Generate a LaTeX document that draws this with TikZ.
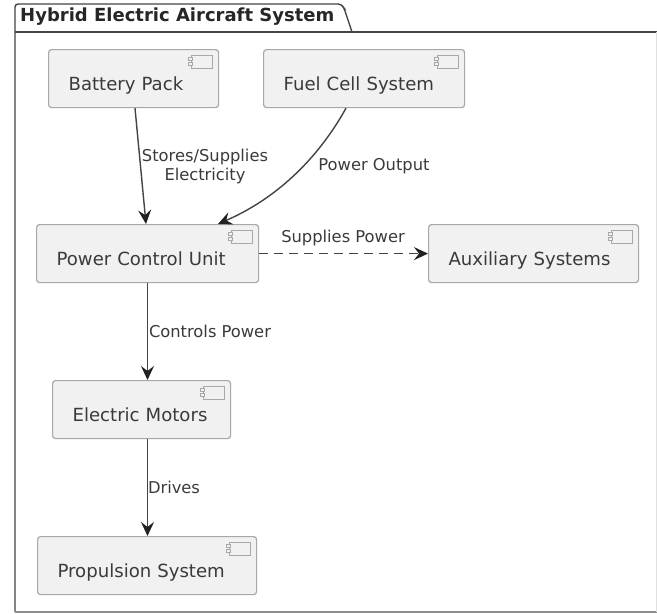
\documentclass[tikz,border=0pt]{standalone}
\usepackage{fontspec}
\setmainfont{DejaVu Sans}
\usetikzlibrary{arrows.meta,calc}
\definecolor{boxfill}{HTML}{F1F1F1}
\definecolor{boxline}{HTML}{A8A8A8}
\definecolor{inkline}{HTML}{444444}
\definecolor{inktip}{HTML}{222222}
\definecolor{inktext}{HTML}{3A3A3A}
\tikzset{
  x=1pt,y=-1pt,
  comp/.style={draw=boxline,fill=boxfill,line width=1.2pt,rounded corners=3pt,anchor=north west,
    inner ysep=0pt,inner xsep=20pt,minimum height=58pt,text width=#1-40pt,align=left,
    font=\fontsize{18.1pt}{20pt}\selectfont,text=inktext,text height=26pt,text depth=2pt},
  flow/.style={draw=inkline,line width=1.4pt,-{Stealth[length=14pt,width=13pt,inset=5pt,color=inktip]}},
  lab/.style={font=\fontsize{16.3pt}{19pt}\selectfont,text=inktext,align=center,inner sep=0pt},
  iconline/.style={draw=boxline,line width=0.9pt,fill=boxfill},
  pkg/.style={draw=inkline,line width=1.4pt},
  icon/.pic={
    \draw[iconline] (-21,0) rectangle (0,13);
    \draw[iconline] (-23.5,2.5) rectangle (-19.5,5.5);
    \draw[iconline] (-23.5,7.5) rectangle (-19.5,10.5);
  }
}
\begin{document}
\begin{tikzpicture}
\useasboundingbox (0,0) rectangle (657,614);
\fill[white] (0,0) rectangle (657,614);
% package
\draw[pkg,rounded corners=3pt] (15,612) -- (15,4) -- (341,4) -- (344,8) -- (352,32);
\draw[pkg] (15,32) -- (657,32);
\draw[draw=black!45,line width=1.2pt] (15,612) -- (657,612);
\draw[draw=black!12,line width=0.8pt] (656,32) -- (656,612);
\node[anchor=west,inner sep=0pt,font=\bfseries\fontsize{18pt}{20pt}\selectfont,text=black!85] (title) at (20,17) {Hybrid Electric Aircraft System};
% components
\node[comp=170pt] (bat) at (48,49) {Battery Pack};
\node[comp=201pt] (fuel) at (263,49) {Fuel Cell System};
\node[comp=222pt] (pcu) at (36,224) {Power Control Unit};
\node[comp=210pt] (aux) at (428,224) {Auxiliary Systems};
\node[comp=178pt] (em) at (52,380) {Electric Motors};
\node[comp=219pt] (prop) at (37,536) {Propulsion System};
% icons
\foreach \n in {bat,fuel,pcu,aux,em,prop}{
  \path ($(\n.north east)+(-7,6)$) pic {icon};
}
% connectors
\coordinate (batOut) at (135,107);
\coordinate (fuelOut) at (346,107);
\draw[flow] (bat.south -| batOut) -- (pcu.north -| 146,0);
\draw[flow] (fuel.south -| fuelOut) .. controls (320,155) and (280,197) .. (pcu.north -| 218,0);
\draw[flow,dash pattern=on 9pt off 6pt] (pcu.east) -- (aux.west);
\draw[flow] (pcu.south -| 147.5,0) -- (em.north -| 147.5,0);
\draw[flow] (em.south -| 147.5,0) -- (prop.north -| 147.5,0);
% labels
\node[lab] (l1) at (205,166) {Stores/Supplies\\Electricity};
\node[lab] (l2) at (374,166) {Power Output};
\node[lab] (l3) at (343,238) {Supplies Power};
\node[lab] (l4) at (210,331) {Controls Power};
\node[lab] (l5) at (174,487) {Drives};
\end{tikzpicture}
\end{document}
